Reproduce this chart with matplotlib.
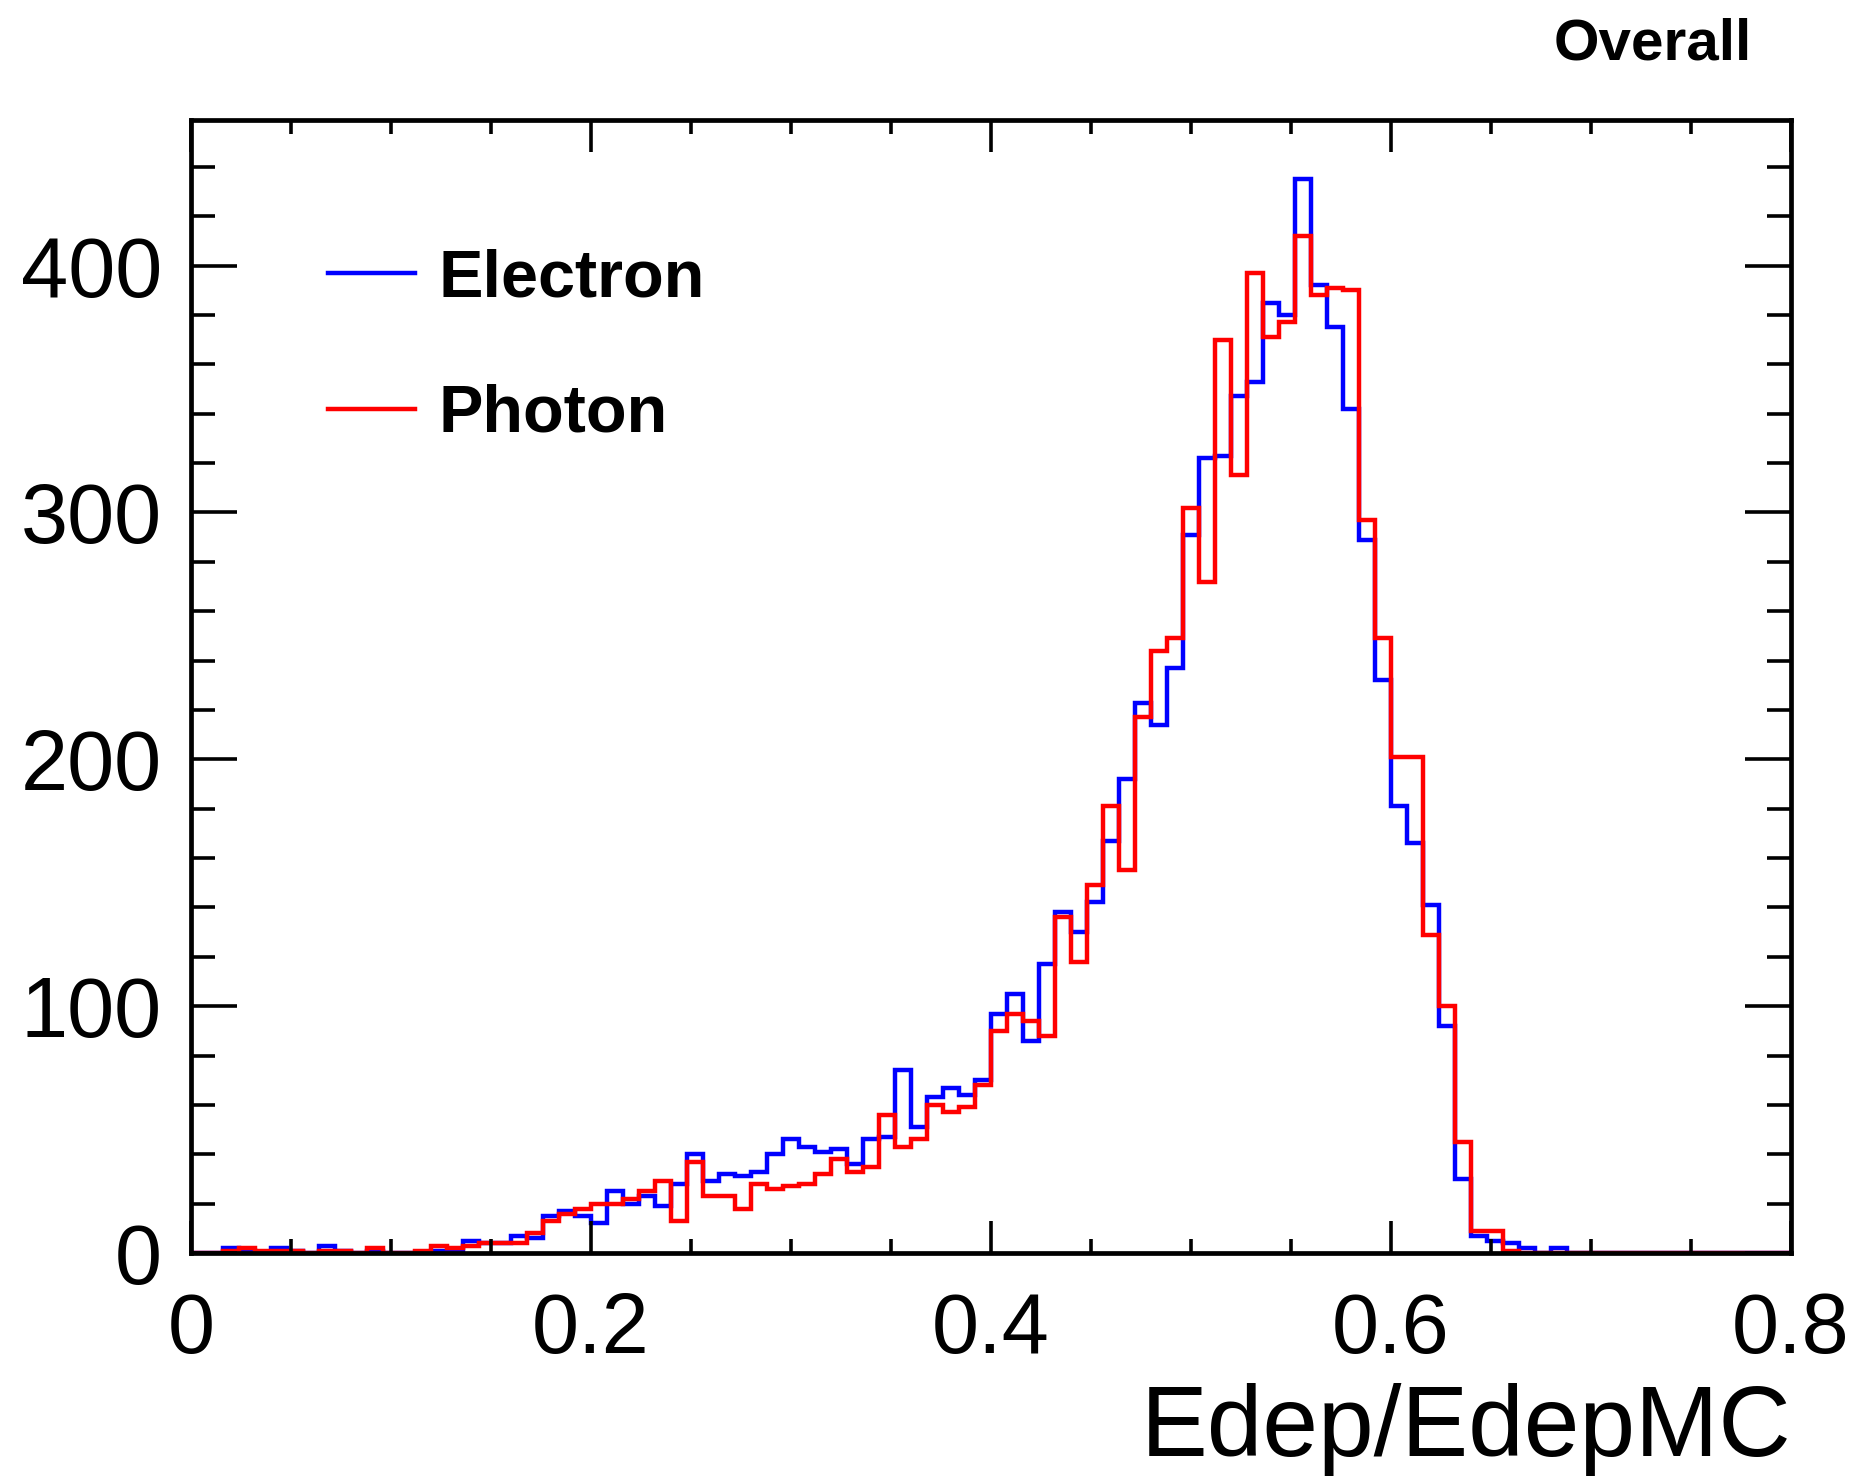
import numpy as np
import matplotlib
matplotlib.use("Agg")
import matplotlib.pyplot as plt
from matplotlib.ticker import MultipleLocator, FuncFormatter
from matplotlib.lines import Line2D

plt.rcParams['font.family'] = ['Liberation Sans', 'DejaVu Sans']

# ---- data (100 bins of width 0.008 from 0 to 0.8) ----
x_min, x_max, n_bins = 0.0, 0.8, 100

electron = [0, 0, 2, 1, 0, 2, 1, 0, 3, 1, 0, 1, 0, 0, 0, 1, 1, 5,
            4, 4, 7, 6, 15, 17, 15,
            12, 25, 20, 23, 19, 28, 40, 29,
            32, 31, 33, 40, 46, 43, 41, 42, 36, 46, 47, 74, 51, 63, 67, 64, 70,
            97, 105, 86, 117, 138, 130, 142, 167, 192, 223, 214, 237,
            291, 322, 323, 347, 353, 385, 380, 435, 392, 375, 342, 289, 232, 181, 166, 141, 92, 30,
            7, 5, 4, 2, 0, 2, 0, 0, 0, 0, 0, 0, 0, 0, 0, 0, 0, 0, 0, 0]

photon = [0, 0, 1, 2, 1, 1, 1, 0, 1, 1, 0, 2, 0, 0, 1, 3, 2, 3,
          4, 4, 4, 8, 13, 16, 18,
          20, 20, 22, 25, 29, 13, 37, 23,
          23, 18, 28, 26, 27, 28, 32, 38, 33, 35, 56, 43, 46, 60, 57, 59, 68,
          90, 97, 94, 88, 136, 118, 149, 181, 155, 217, 244, 249,
          302, 272, 370, 315, 397, 371, 377, 412, 388, 391, 390, 297, 249, 201, 201, 129, 100, 45,
          9, 9, 1, 0, 0, 0, 0, 0, 0, 0, 0, 0, 0, 0, 0, 0, 0, 0, 0, 0]

labels = ["Electron", "Photon"]
colors = ["#0000ff", "#ff0000"]
x_label = "Edep/EdepMC"
title = "Overall"

edges = np.linspace(x_min, x_max, n_bins + 1)

W, H = 1859, 1476
fig = plt.figure(figsize=(W / 100, H / 100), dpi=100)
ax = fig.add_axes([191 / W, 1 - 1253 / H, 1600 / W, 1133 / H])

ax.stairs(electron, edges, color=colors[0], linewidth=3.2, baseline=None)
ax.stairs(photon, edges, color=colors[1], linewidth=3.2, baseline=None)

ax.set_xlim(x_min, x_max)
ax.set_ylim(0, 459)

ax.xaxis.set_major_locator(MultipleLocator(0.2))
ax.xaxis.set_minor_locator(MultipleLocator(0.05))
ax.yaxis.set_major_locator(MultipleLocator(100))
ax.yaxis.set_minor_locator(MultipleLocator(20))
ax.xaxis.set_major_formatter(FuncFormatter(lambda v, p: f"{v:g}"))

ax.tick_params(which='both', direction='in', top=True, right=True, width=2.6)
ax.tick_params(axis='x', which='major', length=23, labelsize=61, pad=27)
ax.tick_params(axis='x', which='minor', length=10)
ax.tick_params(axis='y', which='major', length=33, labelsize=61, pad=21)
ax.tick_params(axis='y', which='minor', length=17)
for s in ax.spines.values():
    s.set_linewidth(3.4)

ax.set_xlabel(x_label, fontsize=72)
ax.xaxis.set_label_coords(1.0, -0.1792)
ax.xaxis.label.set_horizontalalignment('right')
ax.xaxis.label.set_verticalalignment('baseline')

handles = [Line2D([], [], color=c, linewidth=3.2) for c in colors]
ax.legend(handles, labels, loc='upper left', bbox_to_anchor=(0.0856, 0.8865),
          frameon=False, borderpad=0, borderaxespad=0, handlelength=1.3,
          handletextpad=0.36, labelspacing=1.1,
          prop={'size': 48, 'weight': 'bold'})

fig.text(1752 / W, 1 - 59 / H, title, ha='right', va='baseline',
         fontsize=42, fontweight='bold')

fig.savefig("out.png", dpi=100)
